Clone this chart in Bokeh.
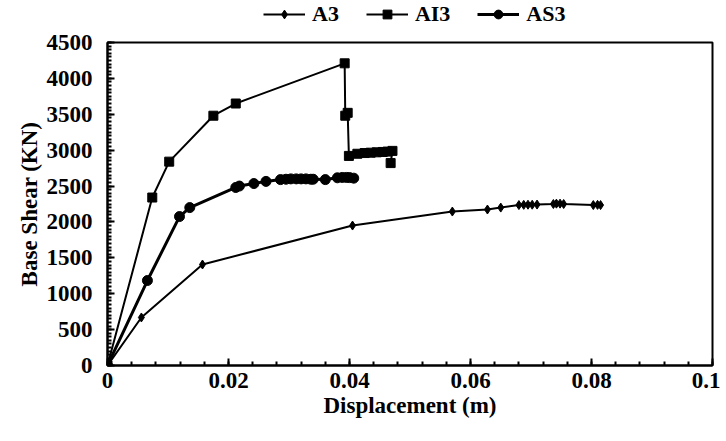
from bokeh.plotting import figure
from bokeh.layouts import column
from bokeh.models import SingleIntervalTicker, Range1d, Legend, LegendItem
from bokeh.embed import file_html
from bokeh.resources import INLINE

# A3 series (diamonds)
a3_x = [0.0, 0.0056, 0.0157, 0.0405, 0.0570, 0.0628, 0.0650, 0.0680, 0.0688, 0.0695,
        0.0702, 0.0710, 0.0737, 0.0742, 0.0748, 0.0754, 0.0803, 0.0810, 0.0815]
a3_y = [0, 669, 1407, 1950, 2145, 2173, 2200, 2235, 2238, 2240,
        2240, 2242, 2250, 2255, 2255, 2250, 2235, 2238, 2235]

# AI3 series (squares)
ai3_x = [0.0, 0.0074, 0.0102, 0.0175, 0.0212, 0.0392, 0.0393, 0.0397, 0.0399,
         0.0413, 0.0425, 0.0435, 0.0445, 0.0455, 0.0463, 0.0471, 0.0468]
ai3_y = [0, 2340, 2840, 3480, 3650, 4210, 3480, 3520, 2920,
         2950, 2960, 2965, 2970, 2975, 2980, 2990, 2820]

# AS3 series (circles)
as3_x = [0.0, 0.0066, 0.0119, 0.0136, 0.0212, 0.0218, 0.0242, 0.0262, 0.0286,
         0.0295, 0.0303, 0.0312, 0.0320, 0.0328, 0.0336, 0.0340, 0.0360, 0.0380,
         0.0388, 0.0395, 0.0400, 0.0407]
as3_y = [0, 1184, 2075, 2200, 2480, 2500, 2535, 2565, 2590,
         2595, 2600, 2600, 2600, 2600, 2595, 2595, 2590, 2615,
         2620, 2620, 2618, 2610]

series_names = ["A3", "AI3", "AS3"]

x_ticks_interval = 0.02
y_ticks_interval = 500

FONT = "Liberation Serif"
NAN = float("nan")

# ---- main chart ----
p = figure(width=720, height=401, output_backend="svg", toolbar_location=None,
           x_range=Range1d(0, 0.1), y_range=Range1d(0, 4500),
           min_border_left=107, min_border_right=8, min_border_top=12, min_border_bottom=66)
p.background_fill_color = "white"
p.border_fill_color = "white"
p.outline_line_color = "black"
p.outline_line_width = 2
p.xgrid.visible = False
p.ygrid.visible = False

p.xaxis.ticker = SingleIntervalTicker(interval=x_ticks_interval, num_minor_ticks=5)
p.yaxis.ticker = SingleIntervalTicker(interval=y_ticks_interval, num_minor_ticks=10)
p.xaxis.formatter.use_scientific = False

for ax in (p.xaxis, p.yaxis):
    ax.axis_line_width = 2
    ax.axis_line_color = "black"
    ax.major_tick_in = 7
    ax.major_tick_out = 0
    ax.minor_tick_in = 4
    ax.minor_tick_out = 0
    ax.major_tick_line_width = 2
    ax.minor_tick_line_width = 2
    ax.major_label_text_font = FONT
    ax.major_label_text_font_style = "bold"
    ax.major_label_text_font_size = "23px"
    ax.major_label_text_color = "black"
    ax.axis_label_text_font = FONT
    ax.axis_label_text_font_style = "bold"
    ax.axis_label_text_font_size = "23px"
    ax.axis_label_text_color = "black"

p.xaxis.axis_label = "Displacement (m)"
p.yaxis.axis_label = "Base Shear (KN)"
p.xaxis.major_label_standoff = 7
p.yaxis.major_label_standoff = 15
p.xaxis.axis_label_standoff = 2
p.yaxis.axis_label_standoff = 2

styles = [
    dict(marker="diamond", size=9, lw=2),
    dict(marker="square", size=9, lw=2),
    dict(marker="circle", size=10, lw=3),
]
data = [(a3_x, a3_y), (ai3_x, ai3_y), (as3_x, as3_y)]
for (xs, ys), st in zip(data, styles):
    p.line(xs, ys, line_color="black", line_width=st["lw"])
    p.scatter(xs, ys, marker=st["marker"], size=st["size"], color="black")

# ---- legend strip above the chart ----
lf = figure(width=720, height=30, output_backend="svg", toolbar_location=None,
            x_range=Range1d(0, 1), y_range=Range1d(0, 1),
            min_border_left=0, min_border_right=0, min_border_top=0, min_border_bottom=0)
lf.xaxis.visible = False
lf.yaxis.visible = False
lf.xgrid.visible = False
lf.ygrid.visible = False
lf.outline_line_color = None
lf.background_fill_color = "white"
lf.border_fill_color = "white"

items = []
for name, st in zip(series_names, styles):
    lr = lf.line(x=[NAN], y=[NAN], line_color="black", line_width=st["lw"])
    sr = lf.scatter(x=[NAN], y=[NAN], marker=st["marker"], size=st["size"], color="black")
    items.append(LegendItem(label=name, renderers=[lr, sr]))

legend = Legend(items=items, orientation="horizontal", location=(156, 3))
legend.glyph_width = 42
legend.glyph_height = 22
legend.label_standoff = 7
legend.spacing = 27
legend.padding = 0
legend.margin = 0
legend.border_line_alpha = 0
legend.background_fill_alpha = 0
legend.label_text_font = FONT
legend.label_text_font_style = "bold"
legend.label_text_font_size = "22px"
legend.label_text_color = "black"
legend.label_height = 22
lf.add_layout(legend, "center")

layout = column(lf, p, spacing=0)
open("out.html", "w").write(file_html(layout, INLINE))
